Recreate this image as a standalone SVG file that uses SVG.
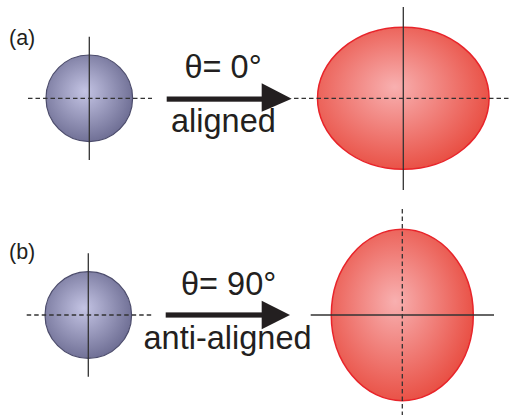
<svg xmlns="http://www.w3.org/2000/svg" width="511" height="417" viewBox="0 0 511 417">
<defs>
<radialGradient id="gBlue" cx="0.45" cy="0.45" r="0.6" fx="0.45" fy="0.42">
<stop offset="0" stop-color="#c4c4e4"/>
<stop offset="1" stop-color="#6a6a90"/>
</radialGradient>
<radialGradient id="gRed" cx="0.45" cy="0.45" r="0.6" fx="0.45" fy="0.42">
<stop offset="0" stop-color="#f8b0b0"/>
<stop offset="1" stop-color="#e84a3e"/>
</radialGradient>
</defs>
<style>
.small{fill:url(#gBlue);stroke:#4c4c6c;stroke-width:1.2}
.big{fill:url(#gRed);stroke:#e8242a;stroke-width:1.5}
.solid{stroke:#333;stroke-width:1.3;fill:none}
.dash{stroke:#333;stroke-width:1.3;stroke-dasharray:4.5 3;fill:none}
.lbl{font-family:"Liberation Sans",Arial,sans-serif;font-size:21.5px;fill:#231f20}
.big-t{font-family:"Liberation Sans",Arial,sans-serif;font-size:32.5px;fill:#231f20}
.arrow{fill:#231f20}
</style>
<text class="lbl" x="9" y="45">(a)</text>
<text class="lbl" x="9" y="259">(b)</text>
<g id="sphere-a">
<circle class="small" cx="89.3" cy="98.3" r="43.3"/>
</g>
<g id="ellipse-a">
<ellipse class="big" cx="403.3" cy="98.3" rx="85.8" ry="71"/>
</g>
<g id="sphere-b">
<circle class="small" cx="88.3" cy="315" r="43.3"/>
</g>
<g id="ellipse-b">
<ellipse class="big" cx="402.3" cy="315" rx="71" ry="85.7"/>
</g>
<g id="connectors">
<line class="solid" x1="89.3" y1="36.7" x2="89.3" y2="160"/>
<line class="dash" x1="28" y1="98.3" x2="152" y2="98.3"/>
<line class="solid" x1="403.3" y1="7" x2="403.3" y2="190"/>
<line class="dash" x1="294" y1="98.3" x2="511" y2="98.3"/>
<line class="solid" x1="88.3" y1="253.3" x2="88.3" y2="376.7"/>
<line class="dash" x1="26.7" y1="315" x2="151.7" y2="315"/>
<line class="dash" x1="402.3" y1="209" x2="402.3" y2="415"/>
<line class="solid" x1="310.7" y1="315" x2="494" y2="315"/>
<rect class="arrow" x="166.7" y="96.5" width="97" height="5.2"/>
<polygon class="arrow" points="261.7,83.3 291.7,98.8 261.7,111.7"/>
<rect class="arrow" x="165.7" y="312.4" width="98" height="5.2"/>
<polygon class="arrow" points="261.7,300.7 290,315 261.7,329.3"/>
</g>
<text class="big-t" x="184.5" y="78">θ= 0°</text>
<text class="big-t" x="171" y="131.7">aligned</text>
<text class="big-t" x="181" y="295">θ= 90°</text>
<text class="big-t" x="143.5" y="349.3">anti-aligned</text>
</svg>
